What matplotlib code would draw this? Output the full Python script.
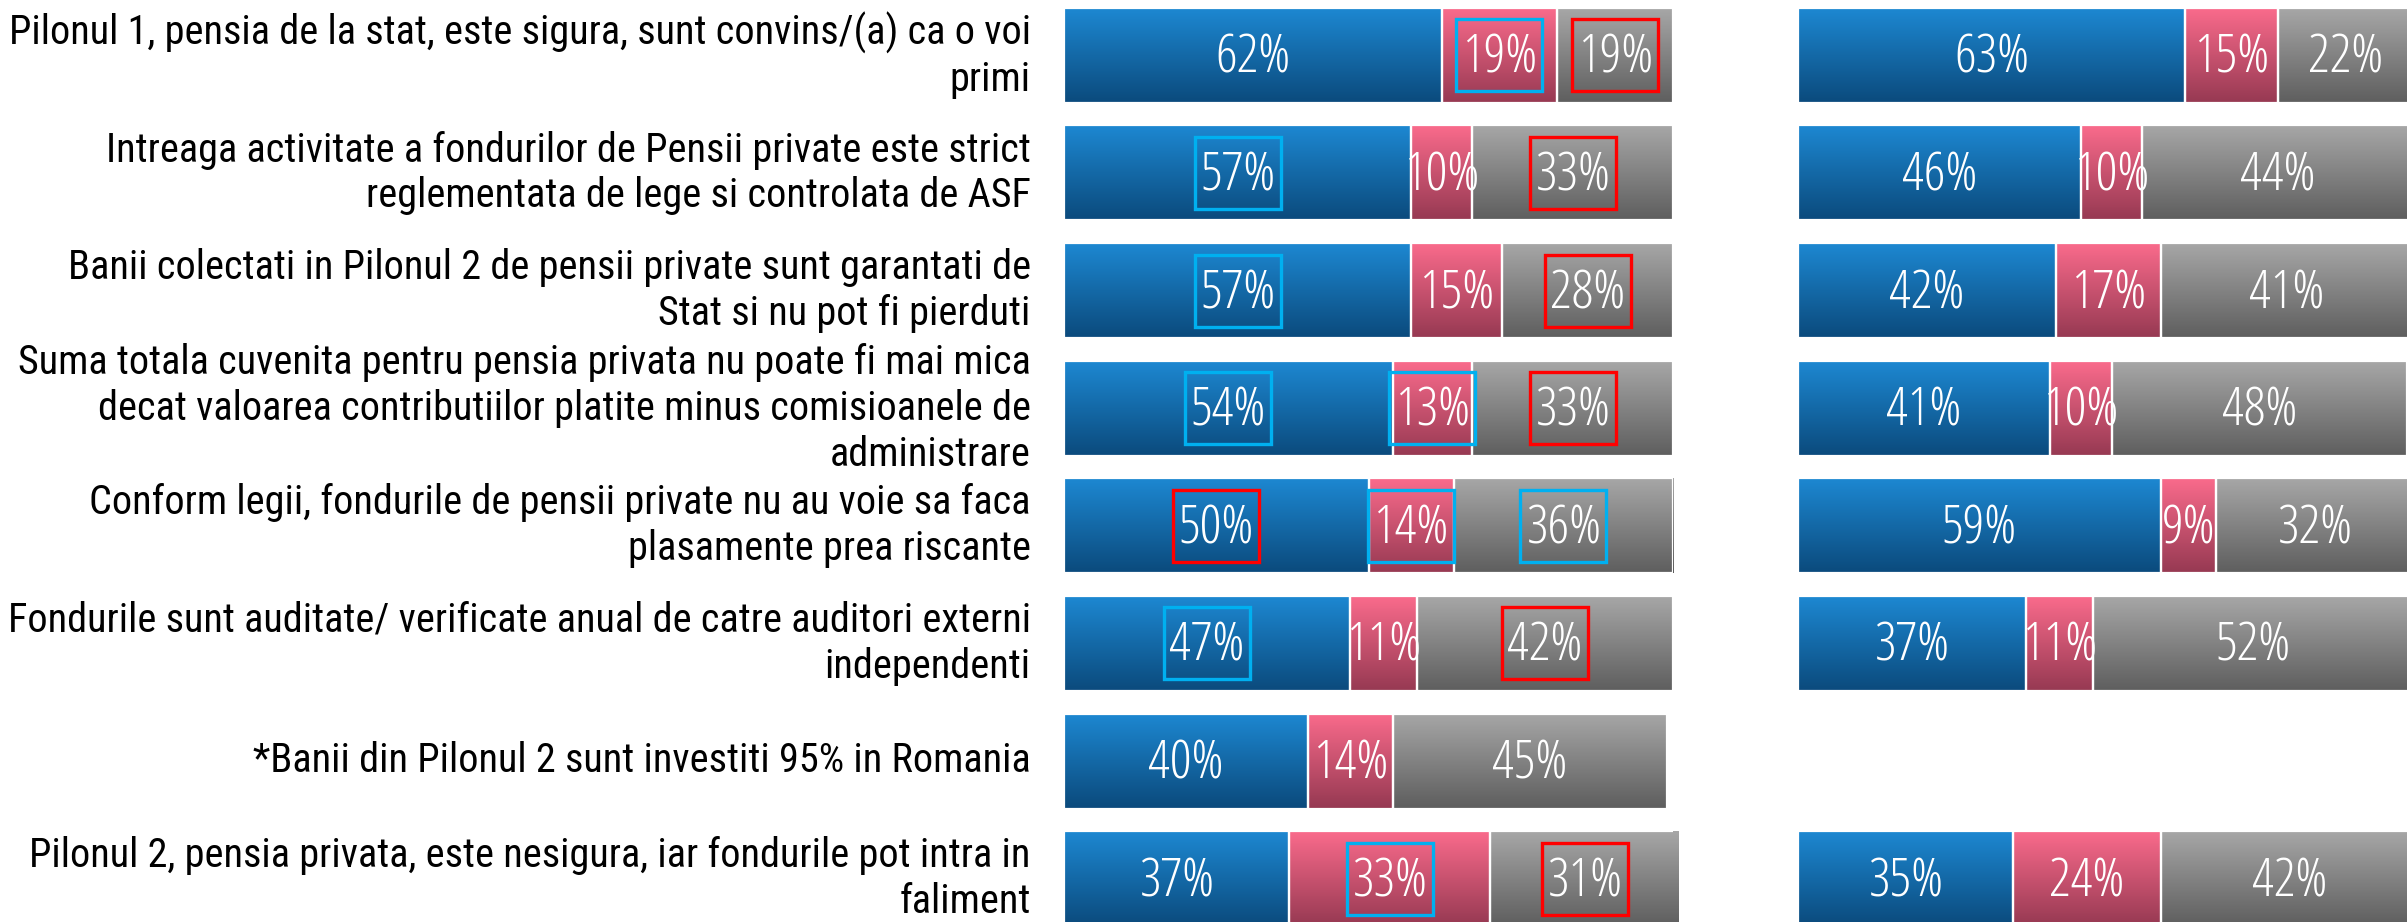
import numpy as np
import matplotlib
matplotlib.use("Agg")
import matplotlib.pyplot as plt
from matplotlib.colors import LinearSegmentedColormap
from matplotlib.patches import Rectangle

# ---------------- data ----------------
categories = [
    "Pilonul 1, pensia de la stat, este sigura, sunt convins/(a) ca o voi\nprimi",
    "Intreaga activitate a fondurilor de Pensii private este strict\nreglementata de lege si controlata de ASF",
    "Banii colectati in Pilonul 2 de pensii private sunt garantati de\nStat si nu pot fi pierduti",
    "Suma totala cuvenita pentru pensia privata nu poate fi mai mica\ndecat valoarea contributiilor platite minus comisioanele de\nadministrare",
    "Conform legii, fondurile de pensii private nu au voie sa faca\nplasamente prea riscante",
    "Fondurile sunt auditate/ verificate anual de catre auditori externi\nindependenti",
    "*Banii din Pilonul 2 sunt investiti 95% in Romania",
    "Pilonul 2, pensia privata, este nesigura, iar fondurile pot intra in\nfaliment",
]
left_blue = [62, 57, 57, 54, 50, 47, 40, 37]
left_pink = [19, 10, 15, 13, 14, 11, 14, 33]
left_gray = [19, 33, 28, 33, 36, 42, 45, 31]

right_blue = [63, 46, 42, 41, 59, 37, None, 35]
right_pink = [15, 10, 17, 10, 9, 11, None, 24]
right_gray = [22, 44, 41, 48, 32, 52, None, 42]

# highlight boxes on the left panel: (row, series index, colour)
box_marks = [
    (0, 1, "#00B0F0"), (0, 2, "#FF0000"),
    (1, 0, "#00B0F0"), (1, 2, "#FF0000"),
    (2, 0, "#00B0F0"), (2, 2, "#FF0000"),
    (3, 0, "#00B0F0"), (3, 1, "#00B0F0"), (3, 2, "#FF0000"),
    (4, 0, "#FF0000"), (4, 1, "#00B0F0"), (4, 2, "#00B0F0"),
    (5, 0, "#00B0F0"), (5, 2, "#FF0000"),
    (7, 1, "#00B0F0"), (7, 2, "#FF0000"),
]

# ---------------- style ----------------
grad_colors = [("#1D88D2", "#0B4A7C"),   # blue
               ("#FA6B8C", "#963952"),   # pink
               ("#A7A7A7", "#5E5E5E")]   # gray
cmaps = [LinearSegmentedColormap.from_list(f"g{i}", c) for i, c in enumerate(grad_colors)]

W, H = 2407, 922
fig = plt.figure(figsize=(W / 100, H / 100), dpi=100)

row_pitch = 117.6
first_center = 55.4
bar_h = 95 / row_pitch
y_top = -first_center / row_pitch
y_bot = (H - first_center) / row_pitch

axL = fig.add_axes([1064 / W, 0, 609 / W, 1])
axR = fig.add_axes([1798 / W, 0, 615 / W, 1])

grad = np.linspace(0, 1, 256).reshape(-1, 1)
val_font = dict(family="Open Sans", stretch="condensed", fontweight="light")


def draw_panel(ax, series):
    n = len(series[0])
    for i in range(n):
        if series[0][i] is None:
            continue
        left = 0
        for s, vals in enumerate(series):
            v = vals[i]
            bars = ax.barh(i, v, left=left, height=bar_h, color="none",
                           edgecolor="none")
            patch = bars.patches[0]
            im = ax.imshow(grad, cmap=cmaps[s], aspect="auto", origin="upper",
                           extent=(left, left + v, i + bar_h / 2, i - bar_h / 2),
                           interpolation="bilinear", zorder=1)
            im.set_clip_path(patch)
            ax.add_patch(Rectangle((left, i - bar_h / 2), v, bar_h, fill=False,
                                   edgecolor="white", lw=1.6, zorder=2))
            ax.text(left + v / 2, i + 0.03, f"{v}%", ha="center", va="center",
                    color="white", fontsize=39, zorder=4, **val_font)
            left += v
    ax.set_xlim(0, 100)
    ax.set_ylim(y_bot, y_top)
    for sp in ax.spines.values():
        sp.set_visible(False)
    ax.set_xticks([])


draw_panel(axL, [left_blue, left_pink, left_gray])
draw_panel(axR, [right_blue, right_pink, right_gray])
axR.set_yticks([])

axL.set_yticks(range(len(categories)))
axL.set_yticklabels(categories, fontsize=29, family="Roboto Condensed")
axL.tick_params(axis="y", length=0, pad=24)
for t in axL.get_yticklabels():
    t.set_linespacing(1.22)
    t.set_verticalalignment("center")

# highlight boxes
series_L = [left_blue, left_pink, left_gray]
box_w_px, box_h_px = 86, 72
px_per_unit = 609 / 100
for row, s, col in box_marks:
    left = sum(series_L[k][row] for k in range(s))
    cx = left + series_L[s][row] / 2
    bw = box_w_px / px_per_unit
    bh = box_h_px / row_pitch
    axL.add_patch(Rectangle((cx - bw / 2, row - bh / 2), bw, bh, fill=False,
                            edgecolor=col, lw=2.4, zorder=5))

fig.savefig("out.png", dpi=100)
